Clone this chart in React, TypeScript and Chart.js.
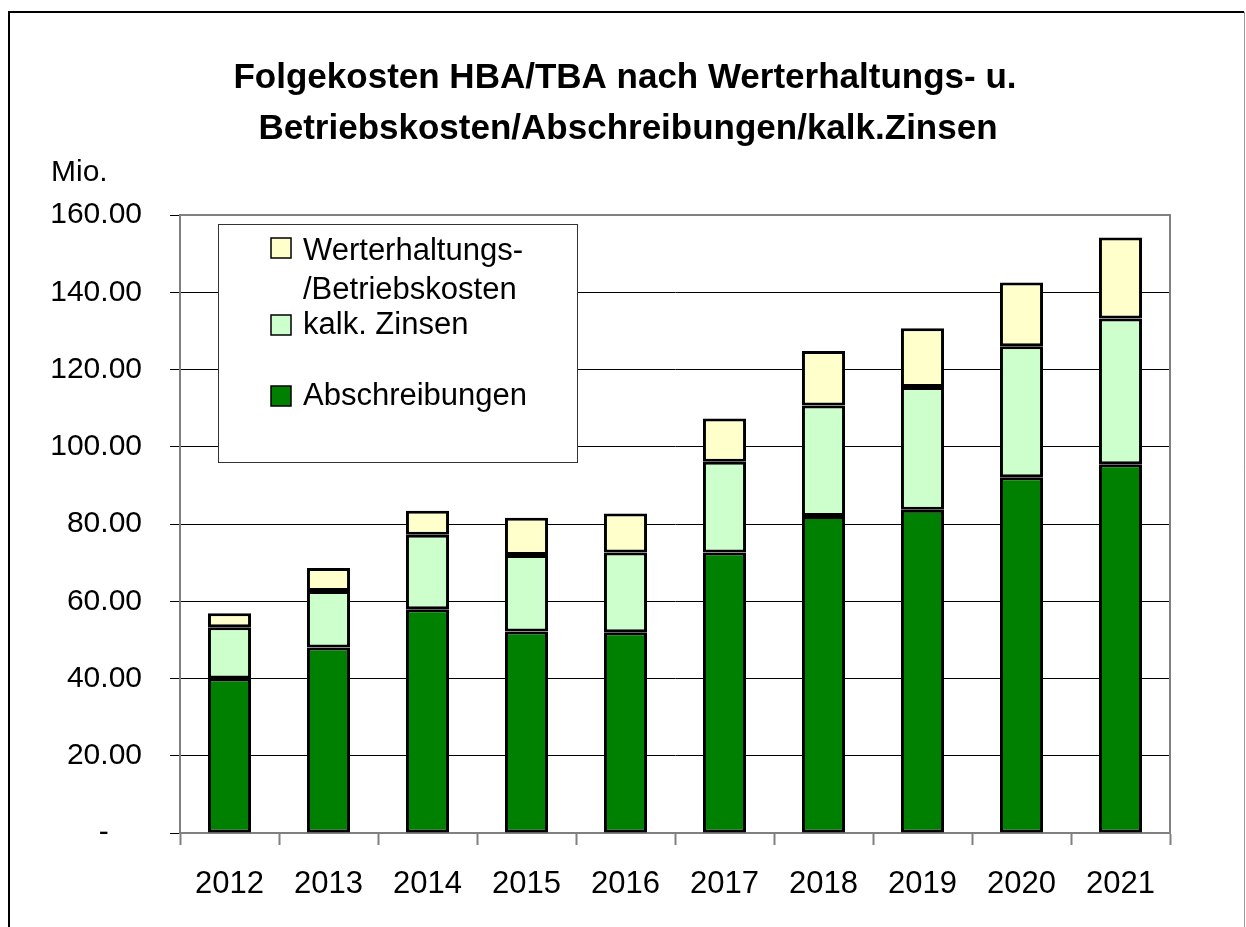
import React, { useEffect, useRef } from "react";
import { Chart, registerables } from "chart.js";

Chart.register(...registerables);

const years = ["2012", "2013", "2014", "2015", "2016", "2017", "2018", "2019", "2020", "2021"];
const abschreibungen = [40.0, 48.0, 57.9, 52.2, 52.0, 72.6, 82.1, 83.7, 92.1, 95.5];
const kalkZinsen = [13.3, 14.65, 19.3, 19.8, 20.6, 23.5, 28.6, 31.8, 33.9, 37.7];
const werterhaltung = [3.6, 5.95, 6.2, 9.6, 10.1, 11.2, 14.1, 15.2, 16.5, 21.0];

const titleLines = [
  "Folgekosten HBA/TBA nach Werterhaltungs- u.",
  "Betriebskosten/Abschreibungen/kalk.Zinsen",
];
const unitLabel = "Mio.";
const labelWerterhaltung = ["Werterhaltungs-", "/Betriebskosten"];
const labelZinsen = ["kalk. Zinsen"];
const labelAbschreibungen = ["Abschreibungen"];

const FONT = "'Liberation Sans', Arial, Helvetica, sans-serif";

const decorPlugin = {
  id: "decor",
  beforeDraw(chart: any) {
    const ctx = chart.ctx;
    ctx.save();
    ctx.fillStyle = "#ffffff";
    ctx.fillRect(0, 0, chart.width, chart.height);
    ctx.strokeStyle = "#000000";
    ctx.lineWidth = 2;
    ctx.beginPath();
    ctx.moveTo(9, chart.height);
    ctx.lineTo(9, 12);
    ctx.lineTo(1244, 12);
    ctx.stroke();
    ctx.strokeStyle = "#999999";
    ctx.lineWidth = 1;
    ctx.beginPath();
    ctx.moveTo(1244.5, 12);
    ctx.lineTo(1244.5, chart.height);
    ctx.stroke();
    ctx.restore();
  },
  beforeDatasetsDraw(chart: any) {
    const ctx = chart.ctx;
    const a = chart.chartArea;
    ctx.save();
    ctx.strokeStyle = "#808080";
    ctx.lineWidth = 2;
    ctx.beginPath();
    ctx.moveTo(a.left, a.top);
    ctx.lineTo(a.right, a.top);
    ctx.lineTo(a.right, a.bottom);
    ctx.stroke();
    ctx.restore();
  },
  afterDraw(chart: any) {
    const ctx = chart.ctx;
    ctx.save();
    ctx.fillStyle = "#000000";
    ctx.textAlign = "center";
    ctx.textBaseline = "middle";
    ctx.font = `bold 35px ${FONT}`;
    ctx.fillText(titleLines[0], 625, 78);
    ctx.fillText(titleLines[1], 628, 129);
    ctx.textAlign = "left";
    ctx.font = `30px ${FONT}`;
    ctx.fillText(unitLabel, 51, 173);
    ctx.fillStyle = "#ffffff";
    ctx.fillRect(218, 224, 359, 238);
    ctx.strokeStyle = "#333333";
    ctx.lineWidth = 1;
    ctx.strokeRect(218.5, 224.5, 359, 238);
    const ds = chart.data.datasets;
    const items = [
      { idx: 2, lines: labelWerterhaltung, ys: [251, 290], sq: 248 },
      { idx: 1, lines: labelZinsen, ys: [325], sq: 325 },
      { idx: 0, lines: labelAbschreibungen, ys: [396], sq: 396 },
    ];
    ctx.font = `31px ${FONT}`;
    ctx.textBaseline = "middle";
    for (const it of items) {
      ctx.fillStyle = ds[it.idx].backgroundColor;
      ctx.fillRect(271, it.sq - 10, 20, 20);
      ctx.strokeStyle = "#000000";
      ctx.lineWidth = 1.5;
      ctx.strokeRect(271, it.sq - 10, 20, 20);
      ctx.fillStyle = "#000000";
      it.lines.forEach((t: string, i: number) => ctx.fillText(t, 303, it.ys[i]));
    }
    ctx.restore();
  },
};

export default function App() {
  const ref = useRef<HTMLCanvasElement | null>(null);

  useEffect(() => {
    document.body.style.margin = "0";
    if (!ref.current) return;
    const common = { borderColor: "#000000", borderWidth: 3, borderSkipped: false as const };
    const chart = new Chart(ref.current, {
      type: "bar",
      data: {
        labels: years,
        datasets: [
          { label: labelAbschreibungen.join(" "), data: abschreibungen, backgroundColor: "#008000", ...common },
          { label: labelZinsen.join(" "), data: kalkZinsen, backgroundColor: "#CCFFCC", ...common },
          { label: labelWerterhaltung.join(""), data: werterhaltung, backgroundColor: "#FFFFCC", ...common },
        ],
      },
      options: {
        responsive: false,
        animation: false,
        devicePixelRatio: 1,
        barPercentage: 0.87,
        categoryPercentage: 0.5,
        layout: { padding: { top: 215, right: 76, bottom: 0, left: 0 } },
        plugins: {
          legend: { display: false },
          title: { display: false },
          tooltip: { enabled: false },
        },
        scales: {
          x: {
            stacked: true,
            grid: {
              drawOnChartArea: false,
              drawTicks: true,
              tickLength: 12,
              tickColor: "#808080",
              tickWidth: 2,
              offset: true,
            },
            border: { color: "#808080", width: 2 },
            ticks: {
              color: "#000000",
              font: { family: FONT, size: 31 },
              padding: 21,
              maxRotation: 0,
            },
            afterFit: (s: any) => {
              s.height = 94;
            },
          },
          y: {
            stacked: true,
            min: 0,
            max: 160,
            ticks: {
              stepSize: 20,
              color: "#000000",
              font: { family: FONT, size: 30 },
              padding: 28,
              callback: (v: any) => (Number(v) === 0 ? "-    " : Number(v).toFixed(2)),
            },
            grid: {
              color: "#000000",
              lineWidth: 1,
              drawTicks: true,
              tickLength: 10,
              tickColor: "#000000",
            },
            border: { color: "#808080", width: 2 },
            afterFit: (s: any) => {
              s.width = 180;
            },
          },
        },
      },
      plugins: [decorPlugin],
    });
    return () => chart.destroy();
  }, []);

  return (
    <div style={{ position: "absolute", left: 0, top: 0, width: 1246, height: 927 }}>
      <canvas ref={ref} width={1246} height={927} />
    </div>
  );
}
